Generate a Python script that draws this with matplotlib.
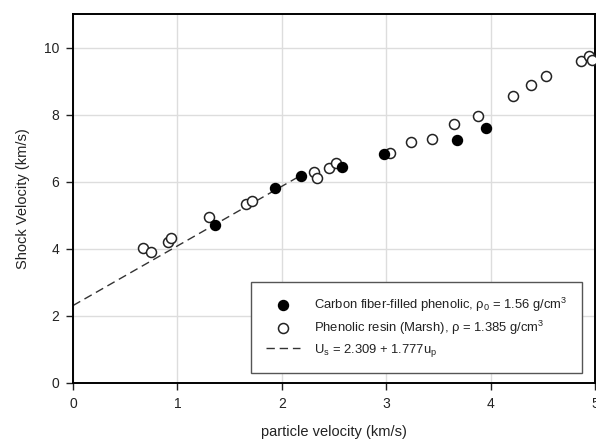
import matplotlib.pyplot as plt
import numpy as np

plt.rcParams['font.family'] = ['Liberation Sans', 'DejaVu Sans']
plt.rcParams['mathtext.fontset'] = 'custom'
plt.rcParams['mathtext.rm'] = 'Liberation Sans'
plt.rcParams['mathtext.it'] = 'Liberation Sans'

# Carbon fiber-filled phenolic (filled circles)
cf_up = [1.36, 1.935, 2.18, 2.58, 2.98, 3.68, 3.956]
cf_us = [4.71, 5.80, 6.18, 6.45, 6.82, 7.24, 7.61]

# Phenolic resin, Marsh (open circles)
pr_up = [0.673, 0.744, 0.907, 0.939, 1.306, 1.657, 1.71, 2.31, 2.34, 2.455, 2.52,
         3.04, 3.24, 3.435, 3.65, 3.88, 4.21, 4.39, 4.53, 4.87, 4.94, 4.975]
pr_us = [4.02, 3.92, 4.21, 4.32, 4.94, 5.34, 5.42, 6.28, 6.10, 6.40, 6.55,
         6.85, 7.17, 7.27, 7.72, 7.97, 8.56, 8.88, 9.16, 9.59, 9.74, 9.64]

# linear fit Us = c0 + s*up
fit_c0 = 2.309
fit_s = 1.777
fit_range = [0.0, 2.2]

fig = plt.figure(figsize=(5.96, 4.43), dpi=100)
ax = fig.add_axes([73 / 596, 1 - 383 / 443, 522 / 596, 369 / 443])

txt = '#222222'

ax.grid(True, color='#dddddd', linewidth=1.0)
ax.set_axisbelow(True)

up_fit = np.array(fit_range)
ax.plot(up_fit, fit_c0 + fit_s * up_fit, color='#333333', linestyle=(0, (6, 3.5)),
        linewidth=1.0, label=r'U$_{\rm s}$ = 2.309 + 1.777u$_{\rm p}$', zorder=2)
ax.plot(pr_up, pr_us, linestyle='none', marker='o', markersize=7.2,
        markerfacecolor='white', markeredgecolor='#222222', markeredgewidth=1.1,
        label='Phenolic resin (Marsh), ρ = 1.385 g/cm$^{3}$', zorder=3)
ax.plot(cf_up, cf_us, linestyle='none', marker='o', markersize=7.2,
        markerfacecolor='black', markeredgecolor='black',
        label='Carbon fiber-filled phenolic, ρ$_{0}$ = 1.56 g/cm$^{3}$', zorder=4)

ax.set_xlim(0, 5)
ax.set_ylim(0, 11)
ax.set_xticks([0, 1, 2, 3, 4, 5])
ax.set_yticks([0, 2, 4, 6, 8, 10])
ax.tick_params(direction='out', length=5, width=1, color='#222222',
               labelsize=10, labelcolor=txt, pad=5)

for spine in ax.spines.values():
    spine.set_linewidth(1.4)
    spine.set_color('black')

ax.set_xlabel('particle velocity (km/s)', fontsize=10.5, color=txt, labelpad=10)
ax.set_ylabel('Shock Velocity (km/s)', fontsize=10.5, color=txt, labelpad=10)

handles, labels = ax.get_legend_handles_labels()
order = [2, 1, 0]
leg = ax.legend([handles[i] for i in order], [labels[i] for i in order],
                loc='lower right', bbox_to_anchor=(0.975, 0.027), borderaxespad=0,
                fontsize=9.4, fancybox=False, framealpha=1, edgecolor='#555555',
                handlelength=2.6, handletextpad=1.1, labelspacing=0.35,
                borderpad=1.1)
leg.get_frame().set_linewidth(1.0)
for t in leg.get_texts():
    t.set_color(txt)

fig.savefig('out.png', dpi=100)
